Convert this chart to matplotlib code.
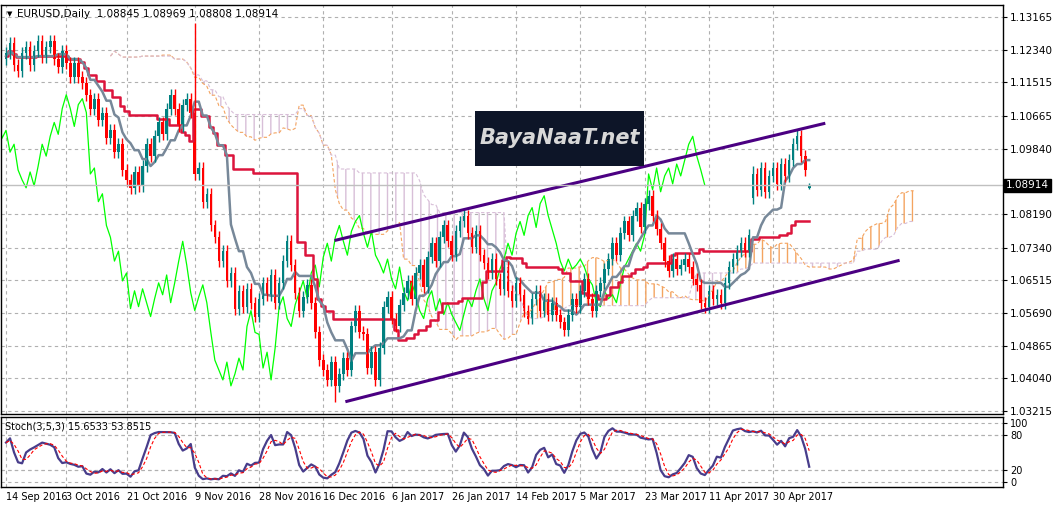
import numpy as np
import pandas as pd
import matplotlib
matplotlib.use('Agg')
import matplotlib.pyplot as plt
from matplotlib.patches import Rectangle

# daily closes, EURUSD, 14 Sep 2016 .. 10 May 2017
closes = [
    1.1225, 1.1250, 1.1195, 1.1180, 1.1225, 1.1240, 1.1195, 1.1230, 1.1255, 1.1215,
    1.1240, 1.1255, 1.1210, 1.1190, 1.1230, 1.1200, 1.1165, 1.1200, 1.1165, 1.1150,
    1.1120, 1.1085, 1.1110, 1.1055, 1.1075, 1.1010, 1.1030, 1.0975, 1.0995, 1.0930,
    1.0905, 1.0885, 1.0925, 1.0890, 1.0940, 1.0995, 1.0965, 1.1015, 1.1050, 1.1020,
    1.1085, 1.1120, 1.1085, 1.1040, 1.1095, 1.1110, 1.1075, 1.0920, 1.0935, 1.0850,
    1.0870, 1.0790, 1.0760, 1.0700, 1.0725, 1.0650, 1.0670, 1.0580, 1.0625, 1.0585,
    1.0630, 1.0595, 1.0560, 1.0605, 1.0645, 1.0615, 1.0665, 1.0595, 1.0645, 1.0700,
    1.0750, 1.0690, 1.0620, 1.0575, 1.0610, 1.0640, 1.0595, 1.0520, 1.0450, 1.0425,
    1.0400, 1.0445, 1.0385, 1.0415, 1.0455, 1.0425, 1.0535, 1.0575, 1.0520, 1.0515,
    1.0430, 1.0470, 1.0400, 1.0480, 1.0585, 1.0610, 1.0555, 1.0535, 1.0590, 1.0620,
    1.0650, 1.0605, 1.0670, 1.0690, 1.0635, 1.0710, 1.0745, 1.0700, 1.0760, 1.0790,
    1.0750, 1.0715, 1.0775, 1.0800, 1.0815, 1.0770, 1.0735, 1.0775, 1.0715, 1.0695,
    1.0670, 1.0705, 1.0655, 1.0630, 1.0685, 1.0625, 1.0600, 1.0645, 1.0615, 1.0575,
    1.0555, 1.0605, 1.0625, 1.0575, 1.0605, 1.0565, 1.0595, 1.0565, 1.0545, 1.0525,
    1.0565, 1.0605, 1.0585, 1.0625, 1.0655, 1.0605, 1.0575, 1.0625, 1.0645, 1.0680,
    1.0705, 1.0745, 1.0715, 1.0770, 1.0800, 1.0765, 1.0815, 1.0835, 1.0785, 1.0845,
    1.0865, 1.0815, 1.0780, 1.0745, 1.0700, 1.0675, 1.0705, 1.0680, 1.0690, 1.0705,
    1.0685, 1.0655, 1.0640, 1.0595, 1.0585, 1.0625, 1.0605, 1.0615, 1.0595, 1.0645,
    1.0685, 1.0705, 1.0725, 1.0745, 1.0725, 1.0765, 1.0920, 1.0880, 1.0935, 1.0875,
    1.0915, 1.0935, 1.0895, 1.0945, 1.0915, 1.0955, 1.0995, 1.1015, 1.0965, 1.0930,
    1.08914,
]
first_open = 1.1210
gap_opens = {186: 1.0860}          # French election gap
spike_highs = {47: 1.1300, 82: 1.0345, 186: 1.0940}

date_ticks = [0, 15, 30, 47, 63, 79, 96, 111, 127, 143, 159, 175, 191]
date_labels = ['14 Sep 2016', '3 Oct 2016', '21 Oct 2016', '9 Nov 2016', '28 Nov 2016',
               '16 Dec 2016', '6 Jan 2017', '26 Jan 2017', '14 Feb 2017', '5 Mar 2017',
               '23 Mar 2017', '11 Apr 2017', '30 Apr 2017']
price_ticks = [1.13165, 1.12340, 1.11515, 1.10665, 1.09840, 1.08190, 1.07340,
               1.06515, 1.05690, 1.04865, 1.04040, 1.03215]

# channel lines (bar index, price)
upper_chan = ([81.8, 204.0], [1.0752, 1.1048])
lower_chan = ([84.5, 222.5], [1.0345, 1.0702])

last_ohlc = (1.08845, 1.08969, 1.08808, 1.08914)
stoch_values = (15.6533, 53.8515)

c = pd.Series(closes)
o = c.shift(1).fillna(first_open)
for k, v in gap_opens.items():
    o[k] = v
o.iloc[-1] = last_ohlc[0]
hi = np.maximum(o, c) + 0.0015
lo = np.minimum(o, c) - 0.0015
for k, v in spike_highs.items():
    if v > c[k]:
        hi[k] = v
    else:
        lo[k] = v
hi.iloc[-1], lo.iloc[-1] = last_ohlc[1], last_ohlc[2]
n = len(c)
idx = np.arange(n)

# ichimoku 9/26/52
mid = lambda p: (hi.rolling(p, min_periods=1).max() + lo.rolling(p, min_periods=1).min()) / 2
tenkan = mid(9)
kijun = mid(26)
span_a = (tenkan + kijun) / 2
span_b = mid(52)

# stochastic
ll = lo.rolling(5, min_periods=1).min()
hh = hi.rolling(5, min_periods=1).max()
k_line = 100 * (c - ll).rolling(3, min_periods=1).sum() / (hh - ll).rolling(3, min_periods=1).sum()
d_line = k_line.rolling(3, min_periods=1).mean()

W, H = 1053, 508
fig = plt.figure(figsize=(W / 100, H / 100), dpi=100)
ax = fig.add_axes([1 / W, (H - 414) / H, 1002 / W, 409 / H])
ax2 = fig.add_axes([1 / W, (H - 487) / H, 1002 / W, 70 / H], sharex=ax)

xmin, xmax = -1.25, 248.25
for a in (ax, ax2):
    a.set_xlim(xmin, xmax)
    a.set_xticks(date_ticks)
    a.grid(True, color='#b0b0b0', linestyle=(0, (3, 3)), linewidth=0.8)
    a.set_axisbelow(True)
    a.yaxis.tick_right()
    a.tick_params(axis='y', labelsize=7.5, length=3, pad=2)
    for s in a.spines.values():
        s.set_linewidth(1.0)

ax.set_ylim(1.0314, 1.13465)
ax.set_yticks(price_ticks)
ax.set_yticklabels([f'{p:.5f}' for p in price_ticks])
ax.tick_params(axis='x', labelbottom=False, length=0)

# cloud
xs = idx + 26
ax.fill_between(xs, span_a, span_b, where=span_a >= span_b, facecolor='none',
                edgecolor='#f4a460', hatch='||', linewidth=0)
ax.fill_between(xs, span_a, span_b, where=span_a < span_b, facecolor='none',
                edgecolor='#d8bfd8', hatch='||', linewidth=0)
ax.plot(xs, span_a, color='#f4a460', lw=0.8, ls=(0, (3, 2)))
ax.plot(xs, span_b, color='#d8bfd8', lw=0.8, ls=(0, (3, 2)))

ax.plot(idx - 26, c, color='#00ff00', lw=0.9)
ax.plot(idx, kijun, color='#dc143c', lw=1.8, drawstyle='steps-mid')
ax.plot(idx, tenkan, color='#778899', lw=1.8)

# candles
up = c >= o
cols = np.where(up, '#008080', '#ff0000')
ax.vlines(idx, lo, hi, colors=cols, lw=1)
ax.bar(idx, (c - o).abs().clip(lower=0.0002), bottom=np.minimum(o, c), width=0.65,
       color=cols, linewidth=0)

ax.plot(*upper_chan, color='#4b0082', lw=2.2, solid_capstyle='butt')
ax.plot(*lower_chan, color='#4b0082', lw=2.2, solid_capstyle='butt')

ax.axhline(c.iloc[-1], color='#c0c0c0', lw=1)
ax.text(1.003, c.iloc[-1], f'{c.iloc[-1]:.5f}', transform=ax.get_yaxis_transform(),
        va='center', ha='left', fontsize=7.5, color='white',
        bbox=dict(boxstyle='square,pad=0.15', fc='black', ec='black'))

ax.text(0.006, 0.985, '\u25bc', transform=ax.transAxes, fontsize=5, va='top')
ax.text(0.016, 0.99, 'EURUSD,Daily  ' + ' '.join(f'{v:.5f}' for v in last_ohlc),
        transform=ax.transAxes, fontsize=7.5, va='top')

# logo
ax.add_patch(Rectangle((116.9, 1.0940), 42, 0.0140, facecolor='#0d1528',
                       edgecolor='none', zorder=5))
ax.text(138, 1.1010, 'BayaNaaT.net', color='#d8d8d8', fontsize=15, style='italic',
        fontweight='bold', ha='center', va='center', zorder=6)

# stochastic panel
ax2.set_ylim(-8.5, 110)
ax2.set_yticks([0, 20, 80, 100])
ax2.tick_params(axis='y', labelsize=7)
ax2.tick_params(axis='x', labelsize=7, length=0)
ax2.set_xticklabels(date_labels, ha='left')
ax2.axhline(20, color='#b0b0b0', ls=(0, (3, 3)), lw=0.8)
ax2.axhline(80, color='#b0b0b0', ls=(0, (3, 3)), lw=0.8)
ax2.plot(idx, k_line, color='#483d8b', lw=1.6)
ax2.plot(idx, d_line, color='#ff0000', lw=0.8, ls=(0, (3, 2)))
ax2.text(0.004, 0.93, 'Stoch(3,5,3) %.4f %.4f' % stoch_values,
         transform=ax2.transAxes, fontsize=7, va='top')

fig.savefig('out.png', dpi=100)
